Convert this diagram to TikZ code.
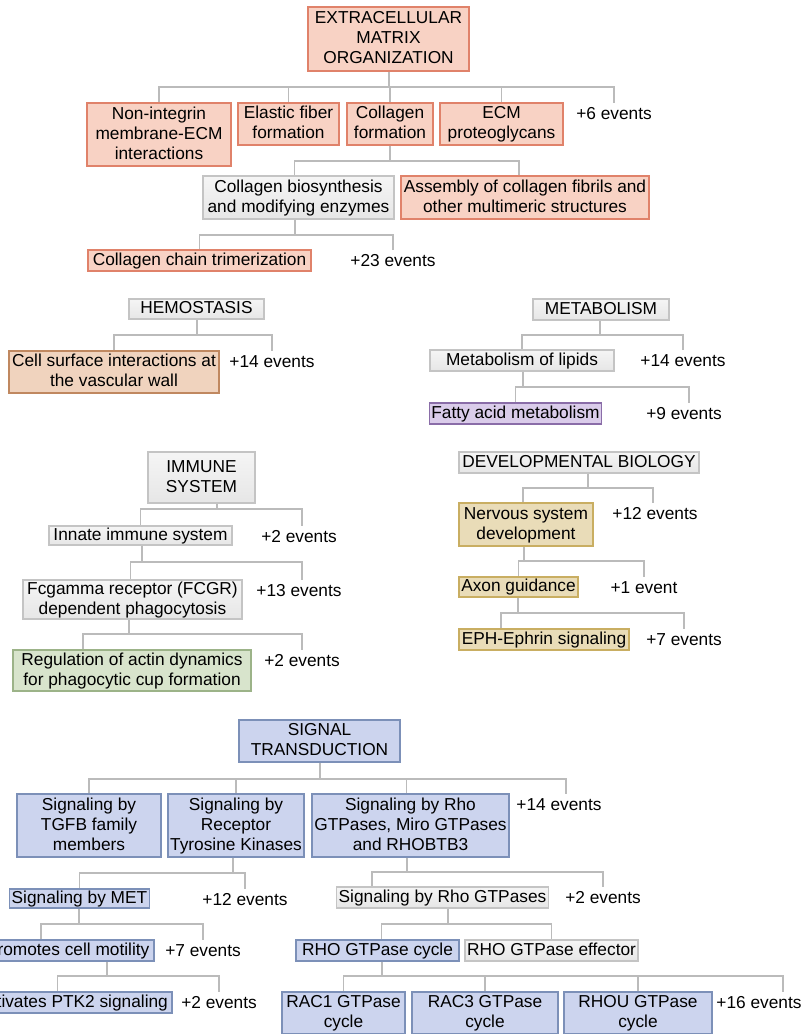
\documentclass[tikz,border=0pt]{standalone}
\usepackage{fontspec}
\setmainfont{Liberation Sans}
\usetikzlibrary{positioning,calc}
\definecolor{ecmline}{HTML}{E0826A}
\definecolor{ecmfill}{HTML}{F8D2C4}
\definecolor{plainline}{HTML}{C4C4C4}
\definecolor{plainfill}{HTML}{E6E6E6}
\definecolor{tanline}{HTML}{C08860}
\definecolor{tanfill}{HTML}{F0D3BE}
\definecolor{purpline}{HTML}{8A6DA8}
\definecolor{purpfill}{HTML}{DACCEA}
\definecolor{greenline}{HTML}{9CB388}
\definecolor{greenfill}{HTML}{D8E4CC}
\definecolor{goldline}{HTML}{C9AE62}
\definecolor{goldfill}{HTML}{E9DCB8}
\definecolor{blueline}{HTML}{7C90B8}
\definecolor{bluefill}{HTML}{CCD4EE}
\definecolor{linkcol}{HTML}{BBBBBB}
\tikzset{
    box/.style={draw,align=center,inner xsep=2pt,inner ysep=1pt,line width=1.3pt,text depth=2.6pt},
    ecmbox/.style={box,draw=ecmline,top color=ecmfill,middle color=ecmfill!30!white,bottom color=ecmfill},
    plainbox/.style={box,draw=plainline,top color=plainfill!40!white,middle color=white,bottom color=plainfill},
    tanbox/.style={box,draw=tanline,top color=tanfill,middle color=tanfill!30!white,bottom color=tanfill},
    purpbox/.style={box,draw=purpline,top color=purpfill,middle color=purpfill!40!white,bottom color=purpfill},
    greenbox/.style={box,draw=greenline,top color=greenfill,middle color=greenfill!35!white,bottom color=greenfill},
    goldbox/.style={box,draw=goldline,top color=goldfill,middle color=goldfill!35!white,bottom color=goldfill},
    bluebox/.style={box,draw=blueline,top color=bluefill,middle color=bluefill!35!white,bottom color=bluefill},
    evt/.style={anchor=north,inner xsep=0pt,inner ysep=3.5pt,text height=12.5pt,text depth=3.5pt},
    link/.style={-,draw=linkcol,line width=1.2pt},
}

\begin{document}
\begin{tikzpicture}[x=1pt,y=-1pt,font=\fontsize{17.3}{20}\selectfont]
    \useasboundingbox (0,0) rectangle (805,1034);
    \fill[white] (0,0) rectangle (805,1034);
    \clip (0,0) rectangle (805,1034);

    % extracellular matrix
    \node[ecmbox,minimum width=161pt,minimum height=64pt] (ecm) at (388.5,39) {EXTRACELLULAR\\MATRIX\\ORGANIZATION};
    \node[ecmbox,minimum width=144pt,minimum height=63pt] (nonint) at (159,134.5) {Non-integrin\\membrane-ECM\\interactions};
    \node[ecmbox,minimum width=101pt,minimum height=42pt] (elastic) at (288.5,124) {Elastic fiber\\formation};
    \node[ecmbox,minimum width=86pt,minimum height=42pt] (colform) at (390,124) {Collagen\\formation};
    \node[ecmbox,minimum width=123pt,minimum height=42pt] (ecmpg) at (501.5,124) {ECM\\proteoglycans};
    \node[evt] (ev6) at (614,103) {+6 events};
    \node[plainbox,minimum width=191pt,minimum height=43pt] (biosyn) at (298.5,197.5) {Collagen biosynthesis\\and modifying enzymes};
    \node[ecmbox,minimum width=248pt,minimum height=43pt] (assembly) at (525,197.5) {Assembly of collagen fibrils and\\other multimeric structures};
    \node[ecmbox,minimum width=223pt,minimum height=21pt] (trimer) at (199.5,260.5) {Collagen chain trimerization};
    \node[evt] (ev23) at (393,250) {+23 events};

    % hemostasis and metabolism
    \node[plainbox,minimum width=135pt,minimum height=20pt] (hemo) at (196.5,309) {HEMOSTASIS};
    \node[tanbox,minimum width=210pt,minimum height=42pt] (cellsurf) at (114,372) {Cell surface interactions at\\the vascular wall};
    \node[evt] (ev14a) at (272,351) {+14 events};
    \node[plainbox,minimum width=136pt,minimum height=21pt] (metab) at (601,309.5) {METABOLISM};
    \node[plainbox,minimum width=184pt,minimum height=21pt] (lipids) at (522,360.5) {Metabolism of lipids};
    \node[evt] (ev14b) at (683,350) {+14 events};
    \node[purpbox,minimum width=171pt,minimum height=21pt] (fatty) at (515.5,413.5) {Fatty acid metabolism};
    \node[evt] (ev9) at (684,403) {+9 events};

    % immune system
    \node[plainbox,minimum width=107pt,minimum height=51pt] (immune) at (201.5,477.5) {IMMUNE\\SYSTEM};
    \node[plainbox,minimum width=183pt,minimum height=19pt] (innate) at (140.5,535.5) {Innate immune system};
    \node[evt] (ev2a) at (299,526) {+2 events};
    \node[plainbox,minimum width=219pt,minimum height=39pt] (fcgr) at (132.5,599.5) {Fcgamma receptor (FCGR)\\dependent phagocytosis};
    \node[evt] (ev13) at (299,580) {+13 events};
    \node[greenbox,minimum width=238pt,minimum height=41pt] (regul) at (132,670.5) {Regulation of actin dynamics\\for phagocytic cup formation};
    \node[evt] (ev2b) at (302,650) {+2 events};

    % developmental biology
    \node[plainbox,minimum width=240pt,minimum height=21pt] (devbio) at (579,462.5) {DEVELOPMENTAL BIOLOGY};
    \node[goldbox,minimum width=134pt,minimum height=43pt] (nervous) at (526,524.5) {Nervous system\\development};
    \node[evt] (ev12a) at (655,503) {+12 events};
    \node[goldbox,minimum width=119pt,minimum height=20pt] (axon) at (518.5,587) {Axon guidance};
    \node[evt] (ev1) at (644,577) {+1 event};
    \node[goldbox,minimum width=170pt,minimum height=21pt] (eph) at (544,639.5) {EPH-Ephrin signaling};
    \node[evt] (ev7a) at (684,629) {+7 events};

    % signal transduction
    \node[bluebox,minimum width=161pt,minimum height=42pt] (sig) at (319.5,741) {SIGNAL\\TRANSDUCTION};
    \node[bluebox,minimum width=144pt,minimum height=63pt] (tgfb) at (89,825.5) {Signaling by\\TGFB family\\members};
    \node[bluebox,minimum width=136pt,minimum height=63pt] (rtk) at (236,825.5) {Signaling by\\Receptor\\Tyrosine Kinases};
    \node[bluebox,minimum width=197pt,minimum height=63pt] (rho) at (410.5,825.5) {Signaling by Rho\\GTPases, Miro GTPases\\and RHOBTB3};
    \node[evt] (ev14c) at (559,794) {+14 events};
    \node[bluebox,minimum width=139pt,minimum height=19pt] (met) at (79.5,898.5) {Signaling by MET};
    \node[evt] (ev12b) at (245,889) {+12 events};
    \node[bluebox,minimum width=212pt,minimum height=21pt] (motil) at (48,950.5) {MET promotes cell motility};
    \node[evt] (ev7b) at (203,940) {+7 events};
    \node[bluebox,minimum width=239pt,minimum height=21pt] (ptk2) at (52.5,1002.5) {MET activates PTK2 signaling};
    \node[evt] (ev2c) at (219,992) {+2 events};
    \node[plainbox,minimum width=211pt,minimum height=21pt] (rhogtp) at (442.5,897.5) {Signaling by Rho GTPases};
    \node[evt] (ev2d) at (603,887) {+2 events};
    \node[bluebox,minimum width=163pt,minimum height=21pt] (rhocyc) at (377.5,950.5) {RHO GTPase cycle};
    \node[plainbox,minimum width=173pt,minimum height=21pt] (rhoeff) at (551.5,950.5) {RHO GTPase effector};
    \node[bluebox,minimum width=123pt,minimum height=42pt] (rac1) at (343.5,1013) {RAC1 GTPase\\cycle};
    \node[bluebox,minimum width=146pt,minimum height=42pt] (rac3) at (485,1013) {RAC3 GTPase\\cycle};
    \node[bluebox,minimum width=148pt,minimum height=42pt] (rhou) at (638,1013) {RHOU GTPase\\cycle};
    \node[evt] (ev16) at (759,992) {+16 events};

    % forks
    \coordinate (jecm) at (389,87);
    \draw[link] (jecm |- ecm.south) -- (jecm);
    \foreach \c in {nonint,elastic,colform,ecmpg,ev6} \draw[link] (jecm) -| (\c.north);
    \coordinate (jcf) at (390,161);
    \draw[link] (jcf |- colform.south) -- (jcf);
    \draw[link] (jcf) -| ([xshift=-4pt]biosyn.north);
    \draw[link] (jcf) -| ([xshift=-6pt]assembly.north);
    \coordinate (jbs) at (295,235);
    \draw[link] (jbs |- biosyn.south) -- (jbs);
    \foreach \c in {trimer,ev23} \draw[link] (jbs) -| (\c.north);

    \coordinate (jhe) at (197,335);
    \draw[link] (jhe |- hemo.south) -- (jhe);
    \foreach \c in {cellsurf,ev14a} \draw[link] (jhe) -| (\c.north);
    \coordinate (jme) at (600,335);
    \draw[link] (jme |- metab.south) -- (jme);
    \foreach \c in {lipids,ev14b} \draw[link] (jme) -| (\c.north);
    \coordinate (jli) at (523,387);
    \draw[link] (jli |- lipids.south) -- (jli);
    \draw[link] (jli) -| (fatty.north);
    \draw[link] (jli) -| ([xshift=5pt]ev9.north);

    \coordinate (jim) at (217,509);
    \draw[link] (jim |- immune.south) -- (jim);
    \draw[link] (jim) -| (innate.north);
    \draw[link] (jim) -| ([xshift=3pt]ev2a.north);
    \coordinate (jin) at (142,562);
    \draw[link] (jin |- innate.south) -- (jin);
    \draw[link] (jin) -| ([xshift=-2pt]fcgr.north);
    \draw[link] (jin) -| ([xshift=3pt]ev13.north);
    \coordinate (jfc) at (129,634);
    \draw[link] (jfc |- fcgr.south) -- (jfc);
    \draw[link] (jfc) -| ([xshift=-49pt]regul.north);
    \draw[link] (jfc) -| (ev2b.north);

    \coordinate (jdb) at (588,488);
    \draw[link] (jdb |- devbio.south) -- (jdb);
    \draw[link] (jdb) -| ([xshift=-3pt]nervous.north);
    \draw[link] (jdb) -| ([xshift=-2pt]ev12a.north);
    \coordinate (jnv) at (524,561);
    \draw[link] (jnv |- nervous.south) -- (jnv);
    \foreach \c in {axon,ev1} \draw[link] (jnv) -| (\c.north);
    \coordinate (jax) at (518,613);
    \draw[link] (jax |- axon.south) -- (jax);
    \draw[link] (jax) -| ([xshift=-43pt]eph.north);
    \draw[link] (jax) -| (ev7a.north);

    \coordinate (jsg) at (320,779);
    \draw[link] (jsg |- sig.south) -- (jsg);
    \foreach \c in {tgfb,rtk} \draw[link] (jsg) -| (\c.north);
    \draw[link] (jsg) -| ([xshift=-4pt]rho.north);
    \draw[link] (jsg) -| ([xshift=7pt]ev14c.north);
    \coordinate (jrt) at (233,873);
    \draw[link] (jrt |- rtk.south) -- (jrt);
    \foreach \c in {met,ev12b} \draw[link] (jrt) -| (\c.north);
    \coordinate (jmt) at (79,924);
    \draw[link] (jmt |- met.south) -- (jmt);
    \draw[link] (jmt) -| ([xshift=-7pt]motil.north);
    \draw[link] (jmt) -| (ev7b.north);
    \coordinate (jmo) at (107,976);
    \draw[link] (jmo |- motil.south) -- (jmo);
    \draw[link] (jmo) -| ([xshift=5pt]ptk2.north);
    \draw[link] (jmo) -| (ev2c.north);
    \coordinate (jrh) at (407,872);
    \draw[link] (jrh |- rho.south) -- (jrh);
    \draw[link] (jrh) -| ([xshift=-70.5pt]rhogtp.north);
    \draw[link] (jrh) -| (ev2d.north);
    \coordinate (jrg) at (448,924);
    \draw[link] (jrg |- rhogtp.south) -- (jrg);
    \draw[link] (jrg) -| ([xshift=4pt]rhocyc.north);
    \draw[link] (jrg) -| (rhoeff.north);
    \coordinate (jrc) at (382,976);
    \draw[link] (jrc |- rhocyc.south) -- (jrc);
    \foreach \c in {rac1,rac3,rhou} \draw[link] (jrc) -| (\c.north);
    \draw[link] (jrc) -| ([xshift=24pt]ev16.north);
\end{tikzpicture}
\end{document}
